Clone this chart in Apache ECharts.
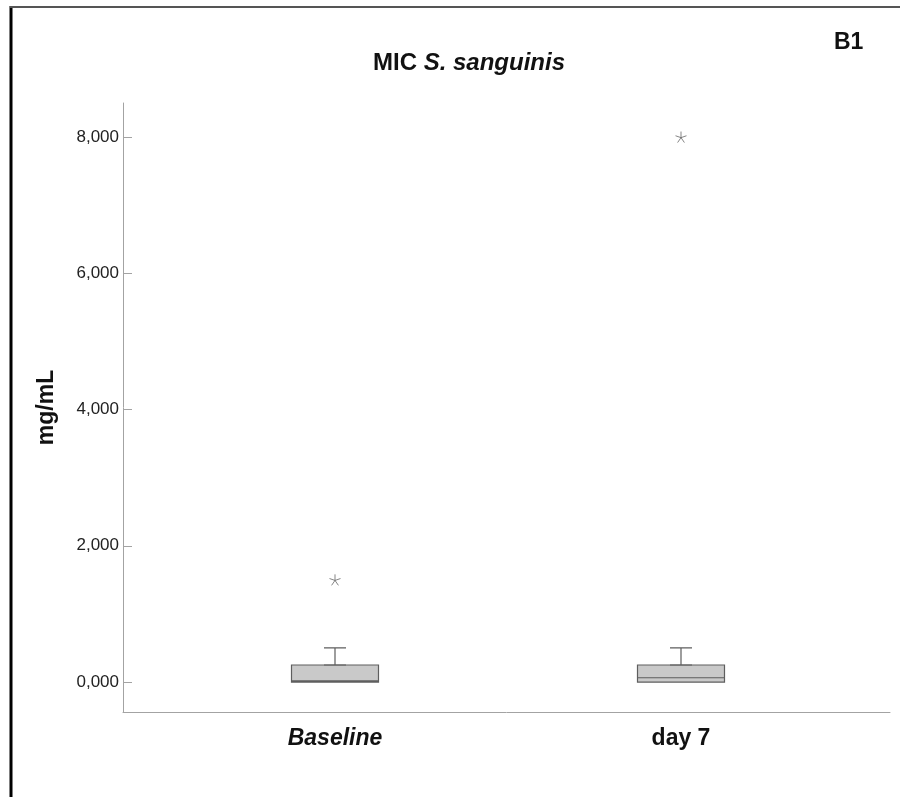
<!DOCTYPE html>
<html>
<head>
  <meta charset="UTF-8" />
  <title>MIC S. sanguinis</title>
  <script src="https://cdn.jsdelivr.net/npm/echarts@6/dist/echarts.min.js"></script>
  <style>
    body { margin: 0; background: #fff; }
    #main { width: 900px; height: 797px; }
  </style>
</head>
<body>
  <div id="main"></div>
  <script>
    // data
    const categories = ['Baseline', 'day 7'];
    // [min, Q1, median, Q3, max]
    const boxStats = [
      [0, 0, 15.6, 250, 500],
      [0, 0, 62.5, 250, 500]
    ];
    const extremeOutliers = [[0, 1500], [1, 8000]];   // stars
    const mildOutliers = [[1, 750]];                  // circles
    const yTicks = [0, 2000, 4000, 6000, 8000];

    const font = '"Liberation Sans Narrow", "Arial Narrow", "Liberation Sans", Arial, sans-serif';
    const lineGray = '#5e5e5e';
    const axisGray = '#a3a3a3';
    const yMin = -440, yMax = 8500;

    const fmt = v => v === 0 ? '0,000' : v.toLocaleString('en-US');

    // box body with whiskers collapsed, whiskers drawn by a narrow second series
    const boxData = boxStats.map(s => [s[1], s[1], s[2], s[3], s[3]]);
    const whiskerData = boxStats.map(s => [s[3], s[3], s[3], s[3], s[4]]);

    const starPath = 'path://M0,-5L0,0M0,0L4.76,-1.55M0,0L2.94,4.05M0,0L-2.94,4.05M0,0L-4.76,-1.55';

    const chart = echarts.init(document.getElementById('main'));
    chart.setOption({
      animation: false,
      backgroundColor: '#fff',
      title: [{
        left: 368, top: 46,
        text: '{a|MIC }{b|S. sanguinis}',
        textStyle: {
          rich: {
            a: { fontFamily: font, fontSize: 24, fontWeight: 'bold', color: '#111' },
            b: { fontFamily: font, fontSize: 24, fontWeight: 'bold', fontStyle: 'italic', color: '#111' }
          }
        }
      }, {
        left: 829, top: 26,
        text: 'B1',
        textStyle: { fontFamily: font, fontSize: 23, fontWeight: 'bold', color: '#111' }
      }],
      grid: [
        { left: 123, right: 10, top: 103, bottom: 85 },
        { left: 162, right: 46, top: 103, bottom: 85 },
        { left: 162, right: 46, top: 103, bottom: 85 }
      ],
      xAxis: [{
        gridIndex: 0, type: 'value', min: 0, max: 1,
        axisLine: { show: true, onZero: false, lineStyle: { color: axisGray, width: 1 } },
        axisTick: { show: false }, axisLabel: { show: false }, splitLine: { show: false }
      }, {
        gridIndex: 1, type: 'category', data: categories,
        axisLine: { show: false }, axisTick: { show: false },
        axisLabel: {
          margin: 15,
          formatter: v => v === 'Baseline' ? '{i|' + v + '}' : '{n|' + v + '}',
          rich: {
            i: { fontFamily: font, fontSize: 23, fontWeight: 'bold', fontStyle: 'italic', color: '#111' },
            n: { fontFamily: font, fontSize: 23, fontWeight: 'bold', color: '#111' }
          }
        }
      }, {
        gridIndex: 2, type: 'category', data: categories, show: false
      }],
      yAxis: [{
        gridIndex: 0, type: 'value', min: yMin, max: yMax,
        name: 'mg/mL', nameLocation: 'middle', nameRotate: 90, nameGap: 65,
        nameTextStyle: { fontFamily: font, fontSize: 23, fontWeight: 'bold', color: '#111' },
        axisLine: { show: true, onZero: false, lineStyle: { color: axisGray, width: 1 } },
        axisTick: { show: true, inside: true, length: 9, customValues: yTicks, lineStyle: { color: axisGray } },
        axisLabel: { customValues: yTicks, formatter: fmt, margin: 4, fontFamily: font, fontSize: 17, color: '#222' },
        splitLine: { show: false }
      }, {
        gridIndex: 1, type: 'value', min: yMin, max: yMax, show: false, splitLine: { show: false }
      }, {
        gridIndex: 2, type: 'value', min: yMin, max: yMax, show: false, splitLine: { show: false }
      }],
      series: [{
        type: 'boxplot', xAxisIndex: 1, yAxisIndex: 1,
        boxWidth: [87, 87],
        data: boxData,
        itemStyle: { color: '#c9c9c9', borderColor: lineGray, borderWidth: 1.2 }
      }, {
        type: 'boxplot', xAxisIndex: 2, yAxisIndex: 2,
        boxWidth: [22, 22],
        data: whiskerData,
        itemStyle: { color: 'none', borderColor: lineGray, borderWidth: 1.2 }
      }, {
        type: 'scatter', xAxisIndex: 1, yAxisIndex: 1,
        symbol: starPath, symbolSize: 11,
        data: extremeOutliers,
        itemStyle: { color: 'none', borderColor: '#666', borderWidth: 1 }
      }, {
        type: 'scatter', xAxisIndex: 1, yAxisIndex: 1,
        symbol: 'emptyCircle', symbolSize: 10,
        data: mildOutliers,
        itemStyle: { color: '#fff', borderColor: '#888', borderWidth: 1 }
      }],
      graphic: [
        { type: 'line', shape: { x1: 11, y1: 6, x2: 11, y2: 797 }, style: { stroke: '#000', lineWidth: 3 } },
        { type: 'line', shape: { x1: 10, y1: 7, x2: 900, y2: 7 }, style: { stroke: '#555', lineWidth: 2 } }
      ]
    });
  </script>
</body>
</html>
